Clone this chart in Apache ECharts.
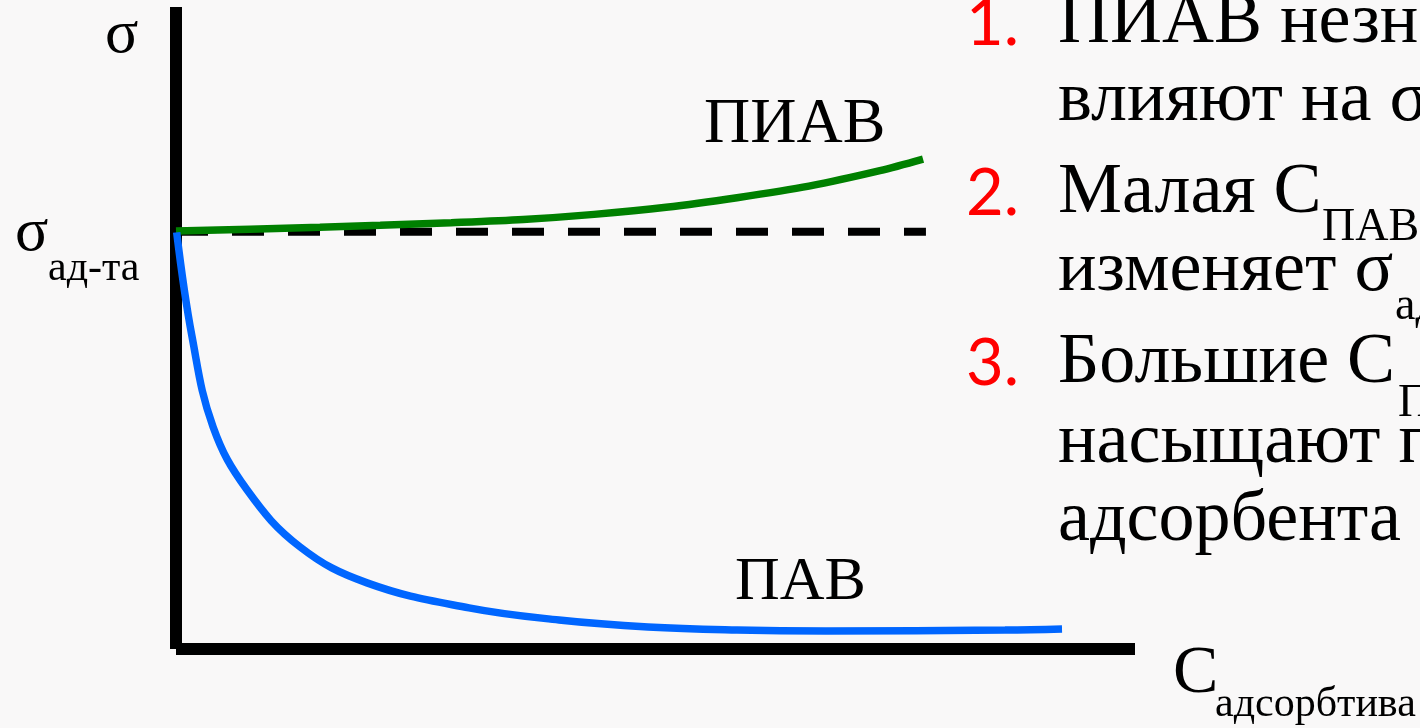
<!DOCTYPE html>
<html>
<head>
<meta charset="utf-8">
<script src="https://cdn.jsdelivr.net/npm/echarts@6/dist/echarts.min.js"></script>
<style>
html,body{margin:0;padding:0;background:#f9f8f8;}
#chart{width:1420px;height:728px;}
</style>
</head>
<body>
<div id="chart"></div>
<script>
// ---- data (x = C adsorbtive, y = sigma) ----
var pavX = [0.007, 0.167, 0.386, 0.740, 1.293, 1.992, 3.055, 3.994, 4.922, 5.85, 6.778, 8.644, 9.239];
var pavY = [64.9, 48.67, 34.63, 24.80, 15.91, 10.30, 6.40, 4.52, 3.43, 2.96, 2.81, 2.96, 3.12];
var piavX = [0, 0.77, 1.5, 2.13, 2.87, 3.62, 4.36, 5.11, 5.85, 6.6, 7.34, 7.79];
var piavY = [65.1, 65.4, 65.7, 66.0, 66.4, 66.9, 67.7, 68.8, 70.3, 72.1, 74.5, 76.3];
var sigmaX = [0, 7.82];
var sigmaY = [65.0, 65.0];

function pairs(xs, ys){ return xs.map(function(x,i){ return [x, ys[i]]; }); }

var SERIF = '"Liberation Serif", "Times New Roman", serif';
var SANS = 'Lato, "Open Sans", sans-serif';
function txt(s, x, baseline, size, family, color){
  var off = family === SANS ? 0.3225 : 0.305;
  return {
    type: 'text', silent: true, z: 10,
    style: {
      text: s, x: x, y: baseline - off * size,
      font: size + 'px ' + family, fill: color || '#000',
      textAlign: 'left', textVerticalAlign: 'middle'
    }
  };
}

var chart = echarts.init(document.getElementById('chart'), null, {renderer: 'canvas'});
chart.setOption({
  animation: false,
  backgroundColor: '#f9f8f8',
  grid: {left: 176, right: 285, top: 7, bottom: 79, containLabel: false},
  xAxis: {
    type: 'value', min: 0, max: 10,
    axisLine: {show: true, onZero: false, lineStyle: {color: '#000', width: 12, cap: 'butt'}},
    axisTick: {show: false}, axisLabel: {show: false}, splitLine: {show: false}
  },
  yAxis: {
    type: 'value', min: 0, max: 100,
    axisLine: {show: true, onZero: false, lineStyle: {color: '#000', width: 12, cap: 'butt'}},
    axisTick: {show: false}, axisLabel: {show: false}, splitLine: {show: false}
  },
  series: [
    {
      type: 'line', name: 'σ ад-та', data: pairs(sigmaX, sigmaY), showSymbol: false, z: 2,
      lineStyle: {color: '#000', width: 8, type: [32, 24], cap: 'butt'}
    },
    {
      type: 'line', name: 'ПИАВ', data: pairs(piavX, piavY), showSymbol: false, z: 3,
      smooth: 0.3,
      lineStyle: {color: '#008000', width: 7.5, cap: 'butt'}
    },
    {
      type: 'line', name: 'ПАВ', data: pairs(pavX, pavY), showSymbol: false, z: 3,
      smooth: 0.4,
      lineStyle: {color: '#0066ff', width: 7.5, cap: 'butt'}
    }
  ],
  graphic: [
    txt('σ', 105, 55, 62, SERIF),
    txt('σ', 15, 253, 62, SERIF),
    txt('ад-та', 48, 282, 42, SERIF),
    txt('ПИАВ', 704, 145, 64, SERIF),
    txt('ПАВ', 735, 602, 62, SERIF),
    txt('С', 1173, 695, 68, SERIF),
    txt('адсорбтива', 1215, 718, 42, SERIF),

    txt('1.', 966, 45, 65, SANS, '#ff0000'),
    txt('ПИАВ незначительно', 1058, 45, 72, SERIF),
    txt('влияют на σ', 1058, 123, 72, SERIF),
    txt('2.', 966, 215, 65, SANS, '#ff0000'),
    txt('Малая С', 1058, 215, 72, SERIF),
    txt('ПАВ', 1322, 242, 46, SERIF),
    txt('изменяет σ', 1058, 293, 72, SERIF),
    txt('ад-та', 1395, 321, 46, SERIF),
    txt('3.', 966, 385, 65, SANS, '#ff0000'),
    txt('Большие С', 1058, 385, 72, SERIF),
    txt('ПАВ', 1398, 418, 46, SERIF),
    txt('насыщают поверхность', 1058, 465, 72, SERIF),
    txt('адсорбента', 1058, 543, 72, SERIF)
  ]
});
</script>
</body>
</html>
